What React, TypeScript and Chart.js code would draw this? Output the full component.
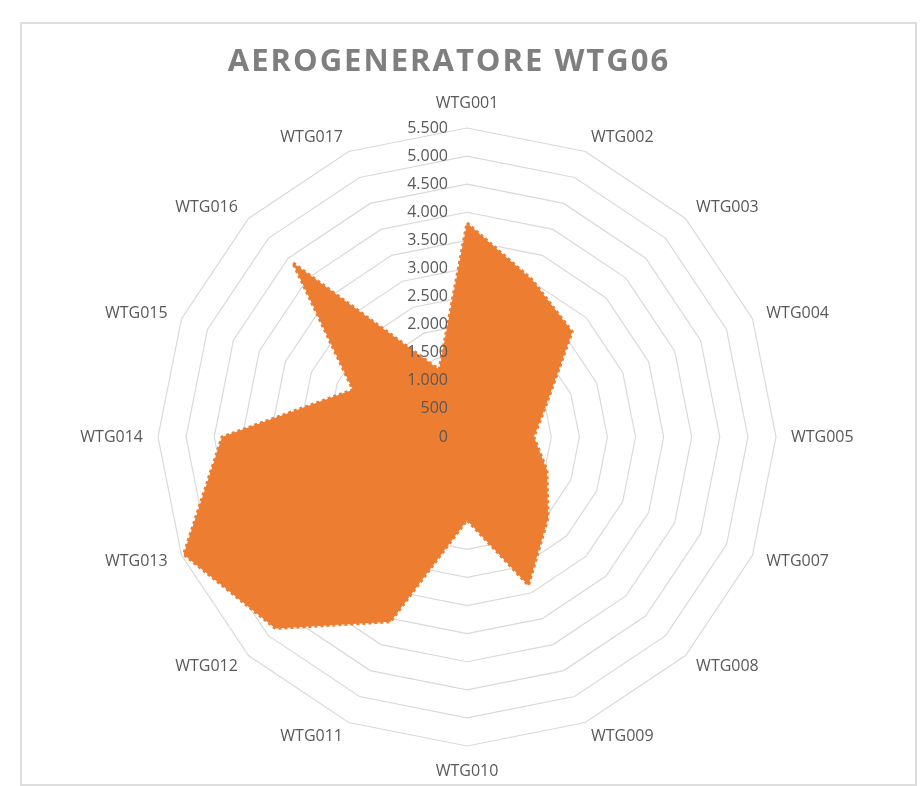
import React, { useEffect, useRef } from "react";
import { Chart, registerables } from "chart.js";

Chart.register(...registerables);

const chartTitle = "AEROGENERATORE WTG06";
const categories = [
  "WTG001", "WTG002", "WTG003", "WTG004", "WTG005", "WTG007", "WTG008", "WTG009",
  "WTG010", "WTG011", "WTG012", "WTG013", "WTG014", "WTG015", "WTG016", "WTG017",
];
const seriesValues = [
  3810, 3030, 2650, 1530, 1190, 1540, 2040, 2860,
  1480, 3560, 4820, 5460, 4360, 2200, 4390, 1300,
];
const tickValues = [0, 500, 1000, 1500, 2000, 2500, 3000, 3500, 4000, 4500, 5000, 5500];
const tickLabels = ["0", "500", "1.000", "1.500", "2.000", "2.500", "3.000", "3.500", "4.000", "4.500", "5.000", "5.500"];

const ORANGE = "#ED7D31";
const TEXT = "#595959";

// Tick labels drawn to the left of the vertical axis, over the fill (as in Excel)
const tickLabelPlugin = {
  id: "tickLabelPlugin",
  afterDatasetsDraw(chart: any) {
    const s = chart.scales.r;
    const ctx = chart.ctx;
    ctx.save();
    ctx.font = '16px "Open Sans"';
    ctx.fillStyle = TEXT;
    ctx.textAlign = "right";
    ctx.textBaseline = "middle";
    s.ticks.forEach((t: any) => {
      const d = s.getDistanceFromCenterForValue(t.value);
      ctx.fillText(t.label, s.xCenter - 19, s.yCenter - d);
    });
    ctx.restore();
  },
};

// Category labels placed Excel-style: anchored at a fixed distance outside the outer ring
const pointLabelPlugin = {
  id: "pointLabelPlugin",
  afterDatasetsDraw(chart: any) {
    const s = chart.scales.r;
    const ctx = chart.ctx;
    ctx.save();
    ctx.font = '16px "Open Sans"';
    ctx.fillStyle = TEXT;
    const labels = chart.data.labels as string[];
    labels.forEach((lab, i) => {
      const pos = s.getPointPosition(i, s.drawingArea + 15);
      const dx = pos.x - s.xCenter;
      const dy = pos.y - s.yCenter;
      let x = pos.x;
      let y = pos.y;
      if (Math.abs(dx) < 0.5) {
        ctx.textAlign = "center";
        ctx.textBaseline = "middle";
        y += dy < 0 ? -10 : 10;
      } else {
        ctx.textAlign = dx > 0 ? "left" : "right";
        ctx.textBaseline = "middle";
      }
      ctx.fillText(lab, x, y);
    });
    ctx.restore();
  },
};

const titlePlugin = {
  id: "titlePlugin",
  afterDraw(chart: any) {
    const ctx = chart.ctx;
    ctx.save();
    ctx.font = 'bold 31px "Open Sans"';
    ctx.fillStyle = "#7F7F7F";
    ctx.textAlign = "center";
    ctx.textBaseline = "middle";
    try { (ctx as any).letterSpacing = "2px"; } catch (e) {}
    ctx.fillText(chartTitle, 449, 62);
    ctx.restore();
  },
};

export default function App() {
  const ref = useRef<HTMLCanvasElement | null>(null);
  useEffect(() => {
    if (!ref.current) return;
    const chart = new Chart(ref.current, {
      type: "radar",
      data: {
        labels: categories,
        datasets: [
          {
            label: chartTitle,
            data: seriesValues,
            backgroundColor: ORANGE,
            borderColor: ORANGE,
            borderWidth: 3,
            borderDash: [3, 3],
            borderCapStyle: "butt",
            pointRadius: 0,
            pointHoverRadius: 0,
            fill: true,
          },
        ],
      },
      options: {
        responsive: false,
        animation: false,
        devicePixelRatio: 1,
        layout: { padding: { left: 20, right: 9, top: 128, bottom: 40 } },
        plugins: { legend: { display: false }, tooltip: { enabled: false }, title: { display: false } },
        scales: {
          r: {
            min: 0,
            max: 5500,
            ticks: {
              stepSize: 500,
              display: false,
              callback: (v: any) => {
                const i = tickValues.indexOf(Number(v));
                return i >= 0 ? tickLabels[i] : String(v);
              },
            },
            grid: { color: "#D9D9D9", lineWidth: 1.2, circular: false },
            angleLines: { display: false },
            pointLabels: { display: false },
          },
        },
      },
      plugins: [tickLabelPlugin, pointLabelPlugin, titlePlugin],
    } as any);
    return () => chart.destroy();
  }, []);

  return (
    <div style={{ position: "absolute", left: 0, top: 0, width: 923, height: 786, background: "#fff" }}>
      <div
        style={{
          position: "absolute",
          left: 20,
          top: 22,
          width: 893,
          height: 760,
          border: "2px solid #DEDEDE",
        }}
      />
      <canvas ref={ref} width={923} height={786} style={{ position: "absolute", left: 0, top: 0, display: "block" }} />
    </div>
  );
}
